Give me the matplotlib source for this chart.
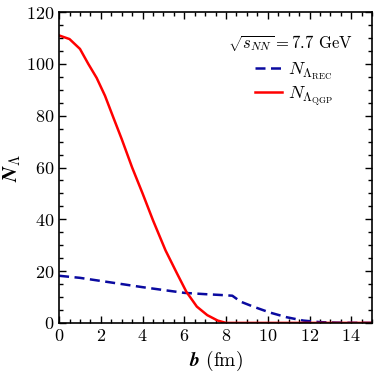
import numpy as np
import matplotlib
matplotlib.use("Agg")
import matplotlib.pyplot as plt
from matplotlib.ticker import MultipleLocator

plt.rcParams['mathtext.fontset'] = 'cm'
plt.rcParams['font.family'] = 'serif'
plt.rcParams['font.serif'] = ['cmr10', 'DejaVu Serif']
plt.rcParams['axes.formatter.use_mathtext'] = True

b_qgp = [0, 0.5, 1.0, 1.4, 1.8, 2.2, 2.6, 3.0, 3.5, 4.0, 4.5, 5.1, 5.65, 6.1, 6.6, 7.1, 7.6, 8.0, 15.0]
n_qgp = [111, 109.6, 105.8, 100, 94.6, 87.7, 79.3, 71, 60, 50, 39.6, 28, 19.1, 12, 6.3, 3.0, 0.9, 0, 0]

b_rec = [0, 1, 2, 3, 4, 5, 6, 7, 7.7, 8.3, 8.7, 9.3, 10.1, 10.9, 11.7, 12.5, 13.3, 14, 15]
n_rec = [18.2, 17.4, 16.2, 15.0, 13.8, 12.7, 11.6, 11.1, 10.8, 10.5, 8.2, 6.3, 4.0, 2.2, 0.9, 0.3, 0.1, 0.03, 0]

fig = plt.figure(figsize=(3.74, 3.79), dpi=100)
ax = fig.add_axes([0.158, 0.148, 0.837, 0.820])

ax.plot(b_rec, n_rec, color='#0a0aa0', lw=1.8, ls=(0, (4.0, 2.2)),
        label=r'$N_{\Lambda_{\mathrm{REC}}}$')
ax.plot(b_qgp, n_qgp, color='#ff0000', lw=1.8, label=r'$N_{\Lambda_{\mathrm{QGP}}}$')

ax.set_xlim(0, 15)
ax.set_ylim(0, 120)
ax.xaxis.set_major_locator(MultipleLocator(2))
ax.xaxis.set_minor_locator(MultipleLocator(0.5))
ax.yaxis.set_major_locator(MultipleLocator(20))
ax.yaxis.set_minor_locator(MultipleLocator(5))
ax.tick_params(which='both', direction='in', top=True, right=True, labelsize=13, width=1)
ax.tick_params(which='major', length=5)
ax.tick_params(which='minor', length=3)
for s in ax.spines.values():
    s.set_linewidth(1.2)

ax.set_xlabel(r'$\boldsymbol{b}$ (fm)', fontsize=14, labelpad=4)
ax.set_ylabel(r'$\boldsymbol{N}_\Lambda$', fontsize=15, labelpad=2)

ax.text(0.939, 0.90, r'$\sqrt{s_{NN}} = 7.7$ GeV', transform=ax.transAxes,
        ha='right', va='center', fontsize=12)
ax.legend(loc='upper left', bbox_to_anchor=(0.626, 0.845), frameon=False,
          borderpad=0, borderaxespad=0,
          fontsize=13, handlelength=1.5, handletextpad=0.35, labelspacing=0.15)

fig.savefig('out.png', dpi=100)
